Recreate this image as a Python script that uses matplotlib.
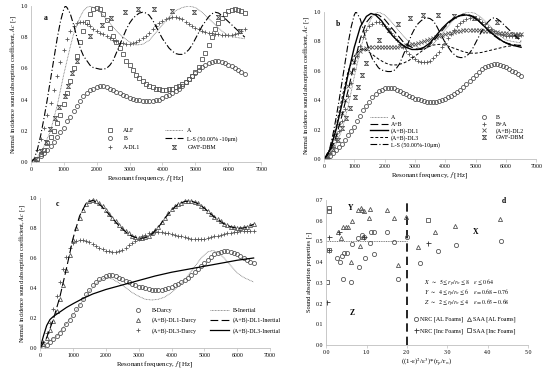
import numpy as np
import matplotlib
matplotlib.use("Agg")
import matplotlib.pyplot as plt
from matplotlib.lines import Line2D
from matplotlib.path import Path

plt.rcParams['font.family'] = ['Liberation Serif', 'DejaVu Serif']
plt.rcParams['mathtext.fontset'] = 'stix'

# =========================
# DATA
# =========================
# common frequency grid of the measured/simulated dense series [Hz]
freq = list(range(100, 6600, 100))

b_vals = [0.0, 0.02, 0.04, 0.06, 0.08, 0.1, 0.13, 0.16, 0.19, 0.22,
          0.26, 0.29, 0.33, 0.36, 0.39, 0.42, 0.44, 0.46, 0.47, 0.48,
          0.485, 0.485, 0.48, 0.47, 0.46, 0.45, 0.44, 0.43, 0.42, 0.41,
          0.405, 0.4, 0.395, 0.39, 0.39, 0.39, 0.39, 0.395, 0.4, 0.41,
          0.42, 0.43, 0.44, 0.455, 0.47, 0.49, 0.51, 0.53, 0.55, 0.57,
          0.59, 0.61, 0.625, 0.635, 0.64, 0.645, 0.645, 0.64, 0.635, 0.625,
          0.615, 0.6, 0.59, 0.575, 0.565]

alf_vals = [0.0, 0.02, 0.05, 0.08, 0.12, 0.16, 0.2, 0.25, 0.3, 0.37,
            0.44, 0.52, 0.6, 0.68, 0.77, 0.84, 0.9, 0.95, 0.98, 0.99,
            0.98, 0.95, 0.91, 0.86, 0.81, 0.77, 0.73, 0.69, 0.65, 0.62,
            0.59, 0.56, 0.54, 0.52, 0.5, 0.49, 0.48, 0.47, 0.465, 0.46,
            0.46, 0.465, 0.47, 0.48, 0.49, 0.5, 0.51, 0.53, 0.55, 0.58,
            0.61, 0.66, 0.7, 0.75, 0.8, 0.85, 0.89, 0.92, 0.95, 0.965,
            0.975, 0.98, 0.975, 0.97, 0.955]

a_dl1_vals = [0.02, 0.08, 0.15, 0.22, 0.3, 0.38, 0.46, 0.55, 0.64, 0.72,
              0.79, 0.84, 0.87, 0.89, 0.9, 0.895, 0.885, 0.87, 0.855, 0.84,
              0.83, 0.82, 0.81, 0.795, 0.785, 0.775, 0.765, 0.76, 0.757, 0.757,
              0.76, 0.77, 0.78, 0.795, 0.81, 0.83, 0.85, 0.87, 0.89, 0.905,
              0.915, 0.925, 0.93, 0.93, 0.925, 0.915, 0.9, 0.885, 0.87, 0.86,
              0.85, 0.84, 0.835, 0.83, 0.825, 0.82, 0.82, 0.817, 0.815, 0.815,
              0.815, 0.82, 0.83, 0.84, 0.85]

ba_vals = [0.01, 0.04, 0.08, 0.13, 0.19, 0.26, 0.34, 0.43, 0.52, 0.61,
           0.7, 0.77, 0.83, 0.875, 0.905, 0.92, 0.93, 0.93, 0.92, 0.905,
           0.885, 0.86, 0.835, 0.81, 0.785, 0.76, 0.735, 0.715, 0.695, 0.68,
           0.67, 0.662, 0.66, 0.662, 0.67, 0.685, 0.705, 0.73, 0.76, 0.79,
           0.82, 0.85, 0.88, 0.905, 0.925, 0.94, 0.952, 0.96, 0.963, 0.96,
           0.95, 0.935, 0.918, 0.9, 0.885, 0.87, 0.858, 0.848, 0.842, 0.838,
           0.836, 0.836, 0.838, 0.84, 0.845]

ab_dl2_vals = [0.01, 0.05, 0.1, 0.16, 0.23, 0.31, 0.4, 0.5, 0.59, 0.66,
               0.71, 0.735, 0.75, 0.755, 0.76, 0.762, 0.763, 0.763, 0.762, 0.762,
               0.762, 0.762, 0.763, 0.765, 0.767, 0.77, 0.773, 0.777, 0.78, 0.785,
               0.79, 0.795, 0.8, 0.807, 0.814, 0.821, 0.828, 0.835, 0.842, 0.849,
               0.855, 0.86, 0.865, 0.869, 0.872, 0.875, 0.877, 0.878, 0.878, 0.877,
               0.876, 0.874, 0.872, 0.87, 0.868, 0.865, 0.862, 0.86, 0.857, 0.855,
               0.853, 0.851, 0.85, 0.849, 0.848]

dl1_darcy_vals = [0.03, 0.07, 0.12, 0.18, 0.25, 0.33, 0.42, 0.52, 0.62, 0.72,
                  0.8, 0.87, 0.92, 0.96, 0.98, 0.985, 0.98, 0.965, 0.945, 0.92,
                  0.895, 0.87, 0.845, 0.82, 0.8, 0.78, 0.765, 0.75, 0.74, 0.735,
                  0.735, 0.74, 0.75, 0.765, 0.785, 0.81, 0.84, 0.87, 0.9, 0.925,
                  0.945, 0.96, 0.97, 0.978, 0.98, 0.98, 0.975, 0.965, 0.95, 0.935,
                  0.915, 0.895, 0.875, 0.86, 0.845, 0.83, 0.82, 0.81, 0.805, 0.8,
                  0.8, 0.805, 0.81, 0.82, 0.83]

dl3_darcy_vals = [0.04, 0.1, 0.17, 0.26, 0.35, 0.44, 0.53, 0.61, 0.67, 0.7,
                  0.715, 0.72, 0.72, 0.715, 0.705, 0.695, 0.68, 0.67, 0.66, 0.65,
                  0.645, 0.64, 0.64, 0.645, 0.655, 0.67, 0.685, 0.7, 0.715, 0.73,
                  0.745, 0.755, 0.765, 0.77, 0.775, 0.775, 0.775, 0.77, 0.765, 0.76,
                  0.755, 0.75, 0.745, 0.74, 0.735, 0.73, 0.73, 0.728, 0.728, 0.73,
                  0.735, 0.74, 0.745, 0.75, 0.755, 0.76, 0.765, 0.77, 0.772, 0.775,
                  0.777, 0.778, 0.78, 0.78, 0.78]

# sparse GWF-DBM points
gwf_f = [150, 300, 450, 580, 720, 870, 1030, 1130, 1240, 1400,
         1800, 2150, 2450, 2850, 3250, 3750, 4300, 4950, 5700, 6350]
gwf_vals = [0.02, 0.07, 0.13, 0.21, 0.28, 0.35, 0.42, 0.49, 0.57, 0.65,
            0.81, 0.88, 0.92, 0.96, 0.98, 0.98, 0.97, 0.96, 0.93, 0.84]

# line series
a_f = [0, 200, 400, 600, 800, 1000, 1100, 1200, 1300, 1400, 1500, 1600, 1700,
       1800, 1900, 2000, 2200, 2400, 2600, 2800, 3000, 3200, 3400, 3600, 3800,
       4000, 4200, 4400, 4600, 4800, 5000, 5200, 5400, 5600, 5800, 6000, 6200, 6500]
a_vals = [0.0, 0.03, 0.1, 0.2, 0.36, 0.56, 0.65, 0.74, 0.82, 0.88, 0.93, 0.97, 0.99,
          1.0, 0.99, 0.98, 0.94, 0.89, 0.84, 0.8, 0.77, 0.75, 0.755, 0.78, 0.83,
          0.88, 0.93, 0.97, 0.99, 1.0, 0.99, 0.96, 0.92, 0.88, 0.84, 0.81, 0.8, 0.79]

ls_f = [0, 100, 200, 300, 400, 500, 600, 700, 800, 900, 1000, 1050, 1100, 1200,
        1300, 1400, 1500, 1600, 1700, 1800, 1900, 2000, 2100, 2200, 2300, 2400,
        2500, 2600, 2700, 2800, 2900, 3000, 3100, 3200, 3300, 3400, 3500, 3600,
        3700, 3800, 3900, 4000, 4100, 4200, 4300, 4400, 4500, 4600, 4700, 4800,
        4900, 5000, 5100, 5200, 5300, 5400, 5500, 5600, 5700, 5800, 5900, 6000,
        6100, 6200, 6300, 6400, 6500]
ls_vals = [0.0, 0.02, 0.08, 0.17, 0.28, 0.4, 0.53, 0.66, 0.79, 0.9, 0.98, 1.0, 0.99, 0.95,
           0.88, 0.8, 0.73, 0.68, 0.65, 0.62, 0.605, 0.6, 0.595, 0.595, 0.6, 0.62,
           0.65, 0.7, 0.75, 0.8, 0.85, 0.89, 0.92, 0.94, 0.955, 0.96, 0.955, 0.94,
           0.91, 0.87, 0.83, 0.79, 0.76, 0.73, 0.71, 0.695, 0.69, 0.69, 0.7, 0.72,
           0.75, 0.79, 0.83, 0.87, 0.9, 0.93, 0.95, 0.96, 0.955, 0.94, 0.92, 0.9,
           0.88, 0.86, 0.84, 0.82, 0.8]

ab_f = [0, 200, 400, 600, 800, 1000, 1200, 1400, 1600, 1700, 1800, 2000, 2200,
        2400, 2600, 2800, 3000, 3200, 3400, 3600, 3800, 4000, 4200, 4400, 4600,
        4800, 5000, 5200, 5400, 5600, 5800, 6000, 6200, 6500]
ab_vals = [0.0, 0.05, 0.15, 0.3, 0.47, 0.65, 0.82, 0.93, 0.98, 0.985, 0.98, 0.95, 0.9,
           0.85, 0.8, 0.77, 0.75, 0.745, 0.76, 0.8, 0.85, 0.9, 0.94, 0.97, 0.985,
           0.98, 0.96, 0.92, 0.88, 0.84, 0.81, 0.79, 0.78, 0.77]

ab_dl1_f = [0, 200, 400, 600, 800, 1000, 1200, 1400, 1550, 1700, 1900, 2100, 2300,
            2500, 2700, 2900, 3100, 3300, 3500, 3700, 3900, 4100, 4300, 4500, 4700,
            4900, 5100, 5300, 5500, 5700, 5900, 6100, 6300, 6500]
ab_dl1_vals = [0.0, 0.06, 0.2, 0.38, 0.58, 0.76, 0.9, 0.97, 0.99, 0.98, 0.94, 0.88, 0.83,
               0.79, 0.76, 0.745, 0.745, 0.76, 0.79, 0.84, 0.89, 0.93, 0.96, 0.975, 0.98,
               0.97, 0.94, 0.9, 0.86, 0.83, 0.8, 0.78, 0.77, 0.76]

ab_dl3_f = [0, 200, 400, 600, 800, 1000, 1200, 1300, 1400, 1600, 1800, 2000, 2200,
            2400, 2600, 2800, 3000, 3200, 3400, 3600, 3800, 4000, 4200, 4400, 4600,
            4800, 5000, 5200, 5400, 5600, 5800, 6000, 6200, 6500]
ab_dl3_vals = [0.0, 0.07, 0.22, 0.42, 0.6, 0.7, 0.745, 0.75, 0.74, 0.71, 0.68, 0.655, 0.64,
               0.64, 0.65, 0.67, 0.7, 0.73, 0.76, 0.775, 0.78, 0.775, 0.76, 0.745, 0.73,
               0.72, 0.72, 0.725, 0.735, 0.745, 0.755, 0.765, 0.77, 0.775]

b_in_f = [0, 500, 1000, 1500, 1800, 2000, 2200, 2500, 2800, 3000, 3200, 3400, 3600,
          3800, 4000, 4300, 4600, 4900, 5100, 5250, 5400, 5600, 5800, 6000, 6200, 6500]
b_in_vals = [0.0, 0.08, 0.22, 0.38, 0.45, 0.47, 0.46, 0.42, 0.37, 0.345, 0.325, 0.32, 0.325,
             0.34, 0.37, 0.43, 0.51, 0.6, 0.64, 0.65, 0.64, 0.6, 0.55, 0.5, 0.47, 0.44]

dl1_in_f = [0, 200, 400, 600, 800, 1000, 1200, 1400, 1600, 1800, 2000, 2200, 2400,
            2600, 2800, 3000, 3200, 3400, 3600, 3800, 4000, 4200, 4400, 4600, 4800,
            5000, 5200, 5400, 5600, 5800, 6000, 6200, 6400, 6500]
dl1_in_vals = [0.0, 0.07, 0.19, 0.34, 0.53, 0.73, 0.88, 0.965, 0.985, 0.96, 0.915, 0.865, 0.815,
               0.775, 0.745, 0.73, 0.735, 0.76, 0.805, 0.865, 0.92, 0.958, 0.977, 0.98, 0.963,
               0.932, 0.892, 0.857, 0.828, 0.808, 0.798, 0.8, 0.815, 0.825]

dl3_in_f = [0, 100, 200, 300, 400, 600, 800, 1000, 1300, 1600, 2000, 2500, 3000,
            3500, 4000, 4500, 5000, 5500, 6000, 6500]
dl3_in_vals = [0.0, 0.08, 0.15, 0.19, 0.21, 0.24, 0.27, 0.295, 0.33, 0.36, 0.39, 0.42, 0.45,
               0.48, 0.505, 0.525, 0.545, 0.565, 0.585, 0.6]

# panel d scatter
nrc_al_x = [0.27, 0.35, 0.45, 0.52, 0.41, 0.62, 0.64, 0.79, 0.82, 0.89, 0.93, 0.97,
            1.09, 1.12, 1.18, 1.18, 1.5, 1.69, 1.79, 2.0, 2.33, 2.76, 3.22, 4.34, 0.4]
nrc_al_y = [0.42, 0.4, 0.443, 0.443, 0.319, 0.306, 0.486, 0.515, 0.378, 0.531, 0.523, 0.422,
            0.494, 0.543, 0.543, 0.438, 0.547, 0.499, 0.317, 0.523, 0.394, 0.455, 0.48, 0.504, 0.43]
saa_al_x = [0.3, 0.38, 0.42, 0.5, 0.54, 0.64, 0.79, 0.87, 0.9, 0.93, 0.91, 0.85, 0.62,
            1.07, 1.09, 1.5, 1.69, 1.79, 1.97, 2.27, 2.7, 3.18, 4.3]
saa_al_y = [0.547, 0.518, 0.568, 0.571, 0.568, 0.599, 0.652, 0.66, 0.652, 0.644, 0.523, 0.478, 0.4,
            0.612, 0.657, 0.652, 0.612, 0.386, 0.617, 0.472, 0.543, 0.575, 0.607]
nrc_inc_x = [0.08, 0.08, 0.02, 0.31, 0.93, 2.52]
nrc_inc_y = [0.523, 0.459, 0.206, 0.547, 0.523, 0.491]
saa_inc_x = [0.07, 0.07, 0.02, 2.53, 0.07]
saa_inc_y = [0.66, 0.645, 0.303, 0.604, 0.459]

# =========================
# STYLE
# =========================
GREY = "#555555"
TICK_FS = 4.2
LAB_FS = 4.6
LEG_FS = 4.3

# x with bars marker used for GWF-DBM
hourglass = Path([(-1, 1), (1, 1), (-1, -1), (1, -1), (-1, 1)],
                 [Path.MOVETO, Path.LINETO, Path.LINETO, Path.LINETO, Path.LINETO])


def style_freq_axis(ax, label, label_pos=(0.057, 0.92)):
    ax.set_xlim(0, 7000)
    ax.set_ylim(0, 1.0)
    ax.set_xticks(range(0, 8000, 1000))
    ax.set_yticks(np.arange(0, 1.01, 0.2))
    ax.set_yticklabels([f"{v:.1f}" for v in np.arange(0, 1.01, 0.2)])
    for s in ["top", "right"]:
        ax.spines[s].set_visible(False)
    for s in ["left", "bottom"]:
        ax.spines[s].set_color("#bfbfbf")
        ax.spines[s].set_linewidth(0.6)
    ax.tick_params(axis="x", length=2, width=0.5, color="#bfbfbf", labelsize=TICK_FS, pad=1.5)
    ax.tick_params(axis="y", length=0, labelsize=TICK_FS, pad=2)
    ax.set_xlabel("Resonant frequency, $f$ [Hz]", fontsize=LAB_FS + 0.4, labelpad=1)
    ax.set_ylabel("Normal incidence sound absorption coefficient, $Ac$ [-]", fontsize=LAB_FS, labelpad=2)
    ax.text(label_pos[0], label_pos[1], label, transform=ax.transAxes, fontsize=5.5,
            fontweight="bold", va="center")


fig = plt.figure(figsize=(5.5, 3.75), dpi=100)

ax_a = fig.add_axes([0.056, 0.568, 0.419, 0.416])
ax_b = fig.add_axes([0.589, 0.576, 0.386, 0.392])
ax_c = fig.add_axes([0.073, 0.072, 0.418, 0.400])
ax_d = fig.add_axes([0.593, 0.080, 0.367, 0.387])

mk = dict(linestyle="none", color=GREY, markerfacecolor="none", markeredgewidth=0.6)
MS_O = 2.9
MS_S = 3.0
MS_P = 3.4
MS_T = 2.9
MS_H = 3.0

# =========================
# PANEL A
# =========================
ax = ax_a
ax.plot(freq, alf_vals, marker="s", markersize=MS_S, **mk)
ax.plot(freq, b_vals, marker="o", markersize=MS_O, **mk)
ax.plot(freq, a_dl1_vals, marker="+", markersize=MS_P, **mk)
ax.plot(a_f, a_vals, color="#777777", linestyle=(0, (1, 0.8)), linewidth=0.6)
ax.plot(ls_f, ls_vals, color="black", linestyle=(0, (6, 2, 1, 2)), linewidth=0.8)
ax.plot(gwf_f, gwf_vals, marker=hourglass, markersize=MS_H, **mk)
style_freq_axis(ax, "a")

handles_a = [
    Line2D([], [], marker="s", markersize=MS_S, **mk),
    Line2D([], [], marker="o", markersize=MS_O, **mk),
    Line2D([], [], marker="+", markersize=MS_P, **mk),
    Line2D([], [], color="#777777", linestyle=(0, (1, 0.8)), linewidth=0.6),
    Line2D([], [], color="black", linestyle=(0, (6, 2, 1, 2)), linewidth=0.8),
    Line2D([], [], marker=hourglass, markersize=MS_H, **mk),
]
labels_a = ["ALF", "B", "A-DL1", "A", "L-S (50.00% -10\u03bcm)", "GWF-DBM"]
ax.legend(handles_a, labels_a, ncol=2, frameon=False, fontsize=LEG_FS, loc="lower left",
          bbox_to_anchor=(0.28, 0.04), handlelength=3.0, columnspacing=4.0,
          labelspacing=0.55, handletextpad=0.8)

# =========================
# PANEL B
# =========================
ax = ax_b
ax.plot(freq, b_vals, marker="o", markersize=MS_O, **mk)
ax.plot(freq, ba_vals, marker="+", markersize=MS_P, **mk)
ax.plot(freq, ab_dl2_vals, marker="x", markersize=2.6, **mk)
ax.plot(gwf_f, gwf_vals, marker=hourglass, markersize=MS_H, **mk)
ax.plot(a_f, a_vals, color="#777777", linestyle=(0, (1, 0.8)), linewidth=0.6)
ax.plot(ab_f, ab_vals, color="black", linestyle=(0, (7, 3)), linewidth=0.8)
ax.plot(ab_dl1_f, ab_dl1_vals, color="black", linestyle="-", linewidth=1.0)
ax.plot(ab_dl3_f, ab_dl3_vals, color="black", linestyle=(0, (3, 2)), linewidth=0.7)
ax.plot(ls_f, ls_vals, color="black", linestyle=(0, (6, 2, 1, 2)), linewidth=0.8)
style_freq_axis(ax, "b")

handles_b = [
    Line2D([], [], color="#777777", linestyle=(0, (1, 0.8)), linewidth=0.6),
    Line2D([], [], color="black", linestyle=(0, (7, 3)), linewidth=0.8),
    Line2D([], [], color="black", linestyle="-", linewidth=1.0),
    Line2D([], [], color="black", linestyle=(0, (3, 2)), linewidth=0.7),
    Line2D([], [], color="black", linestyle=(0, (6, 2, 1, 2)), linewidth=0.8),
    Line2D([], [], marker="o", markersize=MS_O, **mk),
    Line2D([], [], marker="+", markersize=MS_P, **mk),
    Line2D([], [], marker="x", markersize=2.6, **mk),
    Line2D([], [], marker=hourglass, markersize=MS_H, **mk),
]
labels_b = ["A", "A+B", "(A+B)-DL1", "(A+B)-DL3", "L-S (50.00%-10\u03bcm)",
            "B", "B+A", "(A+B)-DL2", "GWF-DBM"]
ax.legend(handles_b, labels_b, ncol=2, frameon=False, fontsize=LEG_FS, loc="lower left",
          bbox_to_anchor=(0.19, 0.04), handlelength=3.0, columnspacing=6.0,
          labelspacing=0.2, handletextpad=0.5)

# =========================
# PANEL C
# =========================
ax = ax_c
ax.plot(freq, b_vals, marker="o", markersize=MS_O, **mk)
ax.plot(freq, dl1_darcy_vals, marker="^", markersize=MS_T, **mk)
ax.plot(freq, dl3_darcy_vals, marker="+", markersize=MS_P, **mk)
ax.plot(b_in_f, b_in_vals, color="#777777", linestyle=(0, (1, 0.8)), linewidth=0.6)
ax.plot(dl1_in_f, dl1_in_vals, color="black", linestyle=(0, (7, 3)), linewidth=0.8)
ax.plot(dl3_in_f, dl3_in_vals, color="black", linestyle="-", linewidth=0.9)
style_freq_axis(ax, "c", label_pos=(0.07, 0.96))

handles_c = [
    Line2D([], [], marker="o", markersize=MS_O, **mk),
    Line2D([], [], marker="^", markersize=MS_T, **mk),
    Line2D([], [], marker="+", markersize=MS_P, **mk),
    Line2D([], [], color="#777777", linestyle=(0, (1, 0.8)), linewidth=0.6),
    Line2D([], [], color="black", linestyle=(0, (7, 3)), linewidth=0.8),
    Line2D([], [], color="black", linestyle="-", linewidth=0.9),
]
labels_c = ["B-Darcy", "(A+B)-DL1-Darcy", "(A+B)-DL3-Darcy",
            "B-Inertial", "(A+B)-DL1-Inertial", "(A+B)-DL3-Inertial"]
ax.legend(handles_c, labels_c, ncol=2, frameon=False, fontsize=LEG_FS, loc="lower left",
          bbox_to_anchor=(0.36, 0.06), handlelength=3.2, columnspacing=2.2,
          labelspacing=0.75, handletextpad=0.7)

# =========================
# PANEL D
# =========================
ax = ax_d
ax.plot([0, 2.0], [0.5, 0.5], color="#777777", linestyle=(0, (1, 0.8)), linewidth=0.7)
ax.plot([2.0, 2.0], [0, 0.7], color="black", linestyle=(0, (5, 3)), linewidth=1.2)
ax.plot(nrc_al_x, nrc_al_y, marker="o", markersize=3.0, **mk)
ax.plot(saa_al_x, saa_al_y, marker="^", markersize=3.0, **mk)
ax.plot(nrc_inc_x, nrc_inc_y, marker="+", markersize=3.6, linestyle="none", color="#333333",
        markeredgewidth=0.6)
ax.plot(saa_inc_x, saa_inc_y, marker="s", markersize=3.0, **mk)
ax.set_xlim(0, 5)
ax.set_ylim(0, 0.7)
ax.set_xticks(np.arange(0, 5.01, 1.0))
ax.set_xticklabels([f"{v:.1f}" for v in np.arange(0, 5.01, 1.0)])
ax.set_yticks(np.arange(0, 0.71, 0.1))
ax.set_yticklabels([f"{v:.1f}" for v in np.arange(0, 0.71, 0.1)])
for s in ["top", "right"]:
    ax.spines[s].set_visible(False)
for s in ["left", "bottom"]:
    ax.spines[s].set_color("#bfbfbf")
    ax.spines[s].set_linewidth(0.6)
ax.tick_params(axis="x", length=2, width=0.5, color="#bfbfbf", labelsize=TICK_FS, pad=1.5)
ax.tick_params(axis="y", length=0, labelsize=TICK_FS, pad=2)
ax.set_xlabel("((1-\u03b5)$^2$/\u03b5$^3$)*(r$_p$/r$_w$)", fontsize=LAB_FS + 0.4, labelpad=1)
ax.set_ylabel("Sound absorption properties [-]", fontsize=LAB_FS, labelpad=3)

ax.text(4.4, 0.695, "d", fontsize=5.5, fontweight="bold", va="center", ha="center")
ax.text(0.61, 0.66, "Y", fontsize=5.5, fontweight="bold", va="center", ha="center")
ax.text(3.69, 0.547, "X", fontsize=5.5, fontweight="bold", va="center", ha="center")
ax.text(0.64, 0.153, "Z", fontsize=5.5, fontweight="bold", va="center", ha="center")
ANN_FS = 4.2
ax.text(2.43, 0.296, r"$X\ \ \sim\ \ 5 \leq r_p/r_w \leq 8\ \ \ \ \varepsilon \leq 0.64$",
        fontsize=ANN_FS, va="center")
ax.text(2.43, 0.249, r"$Y\ \ \sim\ \ 4 \leq r_p/r_w \leq 6\ \ \ \ \varepsilon = 0.68 - 0.76$",
        fontsize=ANN_FS, va="center")
ax.text(2.43, 0.202, r"$Z\ \ \sim\ \ 2 \leq r_p/r_w \leq 4\ \ \ \ \varepsilon = 0.63 - 0.68$",
        fontsize=ANN_FS, va="center")

handles_d = [
    Line2D([], [], marker="o", markersize=3.0, **mk),
    Line2D([], [], marker="+", markersize=3.6, linestyle="none", color="#333333", markeredgewidth=0.6),
    Line2D([], [], marker="^", markersize=3.0, **mk),
    Line2D([], [], marker="s", markersize=3.0, **mk),
]
labels_d = ["NRC [AL Foams]", "NRC [Inc Foams]", "SAA [AL Foams]", "SAA [Inc Foams]"]
ax.legend(handles_d, labels_d, ncol=2, frameon=False, fontsize=LEG_FS, loc="lower left",
          bbox_to_anchor=(0.41, 0.04), handlelength=0.6, columnspacing=0.8,
          labelspacing=1.0, handletextpad=0.3)

fig.savefig("out.png", dpi=100)
